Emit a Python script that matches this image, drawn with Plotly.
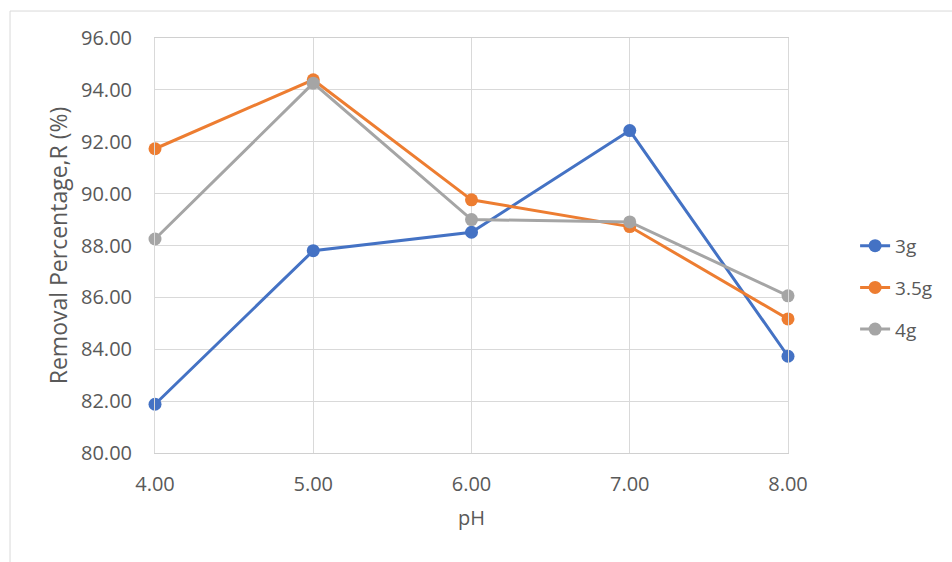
import plotly.graph_objects as go

ph = [4.0, 5.0, 6.0, 7.0, 8.0]
series_names = ["3g", "3.5g", "4g"]
r_3g = [81.88, 87.80, 88.51, 92.43, 83.73]
r_35g = [91.73, 94.39, 89.76, 88.73, 85.17]
r_4g = [88.25, 94.26, 89.00, 88.91, 86.06]
colors = ["#4472C4", "#ED7D31", "#A5A5A5"]
x_ticks = [4, 5, 6, 7, 8]
y_ticks = [80, 82, 84, 86, 88, 90, 92, 94, 96]

FONT = "Open Sans"
TXT = "#595959"

fig = go.Figure()
for name, vals, col in zip(series_names, [r_3g, r_35g, r_4g], colors):
    fig.add_trace(go.Scatter(
        x=ph, y=vals, name=name, legendgroup=name, mode="lines+markers",
        line=dict(color=col, width=3),
        marker=dict(color=col, size=13),
        cliponaxis=False,
    ))

fig.update_layout(
    width=952, height=562,
    margin=dict(l=155, r=164, t=38, b=109),
    paper_bgcolor="white", plot_bgcolor="white",
    font=dict(family=FONT, color=TXT, size=16),
    legend=dict(x=1.106, y=0.398, xanchor="left", yanchor="middle",
                font=dict(size=19, color=TXT), tracegroupgap=14,
                bgcolor="rgba(0,0,0,0)"),
    shapes=[dict(type="path", xref="paper", yref="paper",
                 path="M -0.229 -0.4 L -0.229 1.065 L 1.5 1.065",
                 line=dict(color="#D9D9D9", width=1), layer="below")],
)
fig.update_xaxes(
    range=[4, 8], tickvals=x_ticks, ticktext=[f"{v:.2f}" for v in x_ticks],
    showgrid=True, gridcolor="#D9D9D9", gridwidth=1,
    showline=True, linecolor="#D0D0D0", linewidth=1, mirror=True,
    zeroline=False, ticks="outside", ticklen=13, tickcolor="rgba(0,0,0,0)",
    tickfont=dict(size=20, color=TXT),
    title=dict(text="pH", font=dict(size=20, color=TXT), standoff=14),
)
fig.update_yaxes(
    range=[80, 96], tickvals=y_ticks, ticktext=[f"{v:.2f}" for v in y_ticks],
    showgrid=True, gridcolor="#D9D9D9", gridwidth=1,
    showline=True, linecolor="#D9D9D9", linewidth=1, mirror=True,
    zeroline=False, ticks="outside", ticklen=18, tickcolor="rgba(0,0,0,0)",
    tickfont=dict(size=20, color=TXT),
    title=dict(text="Removal Percentage,R (%)", font=dict(size=23, color=TXT), standoff=6),
)

fig.write_html("out.html")
